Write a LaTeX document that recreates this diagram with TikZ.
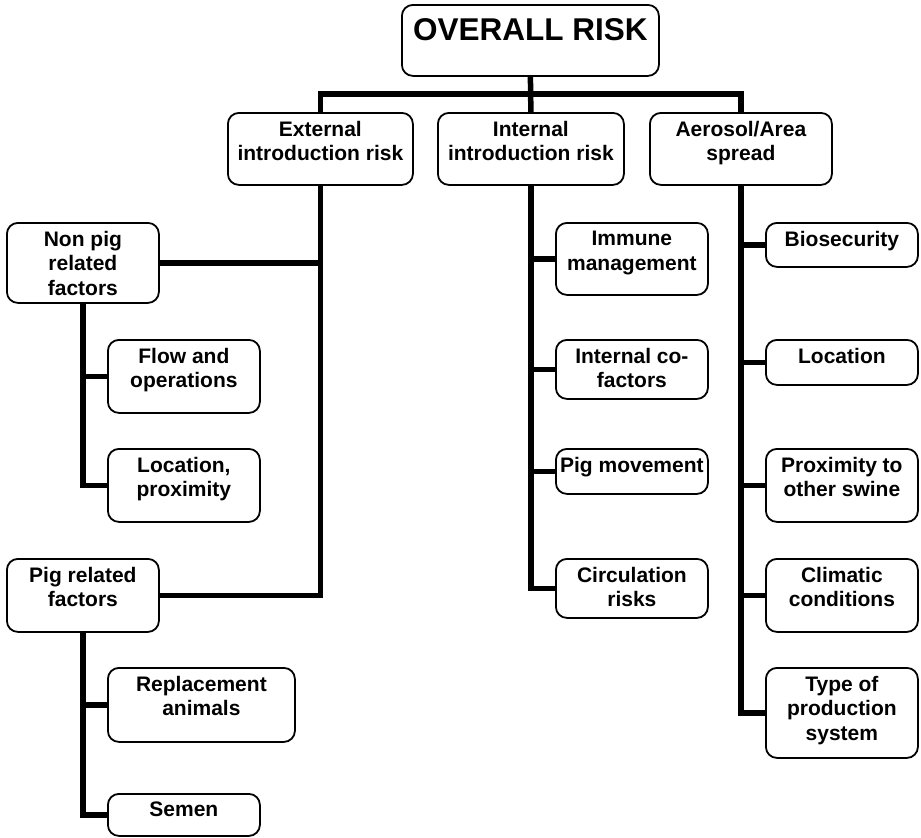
\documentclass[tikz,border=0pt]{standalone}
\usepackage{fontspec}
\setmainfont{Liberation Sans}
\begin{document}
\begin{tikzpicture}[x=1pt,y=-1pt,
  frame/.style={draw, line width=1.8pt, rounded corners=11pt, inner sep=0pt, outer sep=0.9pt},
  lbl/.style={inner sep=0pt, align=center, font=\fontsize{21}{24.5}\selectfont\bfseries},
  conn/.style={line width=5.5pt, line join=miter}]
\useasboundingbox (0,0) rectangle (921,838);
\newcommand{\bx}[6]{%
  \node[frame, minimum width=#4pt-#2pt, minimum height=#5pt-#3pt, anchor=north west] (#1) at (#2,#3) {};
  \node[lbl, anchor=north] (#1-t) at ([yshift=-9pt]#1.north) {#6};}
% top
\node[frame, minimum width=257pt, minimum height=71pt, anchor=north west] (overall) at (401,4) {};
\node[inner sep=0pt, anchor=north, font=\fontsize{31.5}{36}\selectfont\bfseries] (overall-t) at ([yshift=-14pt]overall.north) {OVERALL RISK};
\bx{external}{227}{112}{412}{184}{External\\introduction risk}
\bx{internal}{437}{112}{623}{184}{Internal\\introduction risk}
\bx{aerosol}{649}{112}{831}{184}{Aerosol/Area\\spread}
% external branch
\bx{nonpig}{6}{222}{158}{302}{Non pig\\related\\factors}
\bx{flow}{107}{339}{259}{412}{Flow and\\operations}
\bx{locprox}{107}{448}{259}{521}{Location,\\proximity}
\bx{pigrel}{6}{558}{158}{631}{Pig related\\factors}
\bx{replace}{107}{667}{294}{741}{Replacement\\animals}
\bx{semen}{107}{793}{259}{835}{Semen}
% internal branch
\bx{immune}{555}{222}{707}{294}{Immune\\management}
\bx{cofac}{555}{339}{707}{398}{Internal co-\\factors}
\bx{pigmove}{555}{448}{707}{493}{Pig movement}
\bx{circ}{555}{558}{707}{617}{Circulation\\risks}
% aerosol branch
\bx{bio}{765}{222}{917}{266}{Biosecurity}
\bx{loc}{765}{339}{917}{384}{Location}
\bx{prox}{765}{448}{917}{521}{Proximity to\\other swine}
\bx{clim}{765}{558}{917}{631}{Climatic\\conditions}
\bx{type}{765}{667}{917}{757}{Type of\\production\\system}
% connectors
\coordinate (bus) at (530,94);
\draw[conn] (overall.south) -- (internal.north);
\draw[conn] (external.north) |- (bus) -| (aerosol.north);
\draw[conn] (external.south) |- (pigrel.east);
\draw[conn] (nonpig.east) -- (nonpig.east -| external.south);
\draw[conn] (nonpig.south) |- (flow.west);
\draw[conn] (nonpig.south) |- (locprox.west);
\draw[conn] (pigrel.south) |- (replace.west);
\draw[conn] (pigrel.south) |- (semen.west);
\draw[conn] (internal.south) |- (immune.west);
\draw[conn] (internal.south) |- (cofac.west);
\draw[conn] (internal.south) |- (pigmove.west);
\draw[conn] (internal.south) |- (circ.west);
\draw[conn] (aerosol.south) |- (bio.west);
\draw[conn] (aerosol.south) |- (loc.west);
\draw[conn] (aerosol.south) |- (prox.west);
\draw[conn] (aerosol.south) |- (clim.west);
\draw[conn] (aerosol.south) |- (type.west);
\end{tikzpicture}
\end{document}
